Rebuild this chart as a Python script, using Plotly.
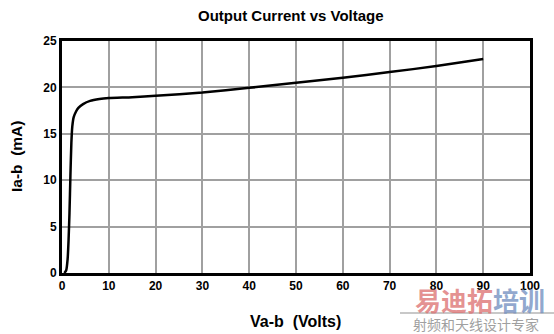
import plotly.graph_objects as go

# Data
volts = [0.5, 0.9, 1.2, 1.4, 1.6, 1.8, 2.0, 2.2, 2.5, 3.0, 3.5, 4.5, 6, 8, 10, 15, 20, 30, 40, 50, 60, 70, 80, 90]
current_ma = [0, 0.3, 1.5, 3.5, 6.5, 10.5, 14.0, 15.8, 16.8, 17.4, 17.8, 18.2, 18.55, 18.75, 18.85, 18.95, 19.1, 19.45, 19.95, 20.5, 21.05, 21.65, 22.3, 23.05]
x_ticks = [0, 10, 20, 30, 40, 50, 60, 70, 80, 90, 100]
y_ticks = [0, 5, 10, 15, 20, 25]

title_text = "Output Current vs Voltage"
x_title = "Va-b  (Volts)"
y_title = "Ia-b  (mA)"

W, H = 554, 334
ML, MR, MT, MB = 62, 24, 41, 61
pw = W - ML - MR
ph = H - MT - MB


def px(x):
    return (x - ML) / pw


def py(y):
    return (H - MB - y) / ph


fig = go.Figure()
fig.add_trace(go.Scatter(x=volts, y=current_ma, mode="lines",
                         line=dict(color="black", width=2.5, shape="spline", smoothing=0.6),
                         hoverinfo="skip", showlegend=False))

tickfont = dict(family="Arial, Liberation Sans", size=12, color="black", weight="bold")
fig.update_layout(
    width=W, height=H,
    margin=dict(l=ML, r=MR, t=MT, b=MB),
    paper_bgcolor="white", plot_bgcolor="white",
    font=dict(family="Arial, Liberation Sans", color="black"),
    xaxis=dict(range=[0, 100], tickvals=x_ticks, showgrid=True, gridcolor="#a0a0a0", gridwidth=2,
               showline=True, linecolor="black", linewidth=3, mirror=True, ticks="",
               tickfont=tickfont, zeroline=False, fixedrange=True),
    yaxis=dict(range=[0, 25], tickvals=y_ticks, showgrid=True, gridcolor="#a0a0a0", gridwidth=2,
               showline=True, linecolor="black", linewidth=3, mirror=True, ticks="",
               tickfont=tickfont, zeroline=False, fixedrange=True),
)

fig.add_annotation(text="<b>" + title_text + "</b>", x=px(291), y=py(16), xref="paper", yref="paper",
                   showarrow=False, font=dict(size=15), xanchor="center", yanchor="middle")
fig.add_annotation(text="<b>" + x_title + "</b>", x=px(295), y=py(321), xref="paper", yref="paper",
                   showarrow=False, font=dict(size=16), xanchor="center", yanchor="middle")
fig.add_annotation(text="<b>" + y_title + "</b>", x=px(16), y=py(157), xref="paper", yref="paper",
                   showarrow=False, font=dict(size=15.5), textangle=-90, xanchor="center", yanchor="middle")

# watermark
fig.add_annotation(text="<b>易迪拓</b>", x=px(454), y=py(299), xref="paper", yref="paper", showarrow=False,
                   font=dict(family="Noto Sans CJK SC", size=26, color="rgba(220,110,110,0.75)"),
                   xanchor="center", yanchor="middle")
fig.add_annotation(text="<b>培训</b>", x=px(519), y=py(299), xref="paper", yref="paper", showarrow=False,
                   font=dict(family="Noto Sans CJK SC", size=26, color="rgba(110,140,190,0.75)"),
                   xanchor="center", yanchor="middle")
fig.add_annotation(text="射频和天线设计专家", x=px(476), y=py(324), xref="paper", yref="paper", showarrow=False,
                   font=dict(family="Noto Sans CJK SC", size=14, color="#a0a0a0"),
                   xanchor="center", yanchor="middle")
fig.add_shape(type="line", xref="paper", yref="paper", x0=px(400), x1=px(554), y0=py(313), y1=py(313),
              line=dict(color="#c8c8c8", width=2))

fig.write_html("out.html")
